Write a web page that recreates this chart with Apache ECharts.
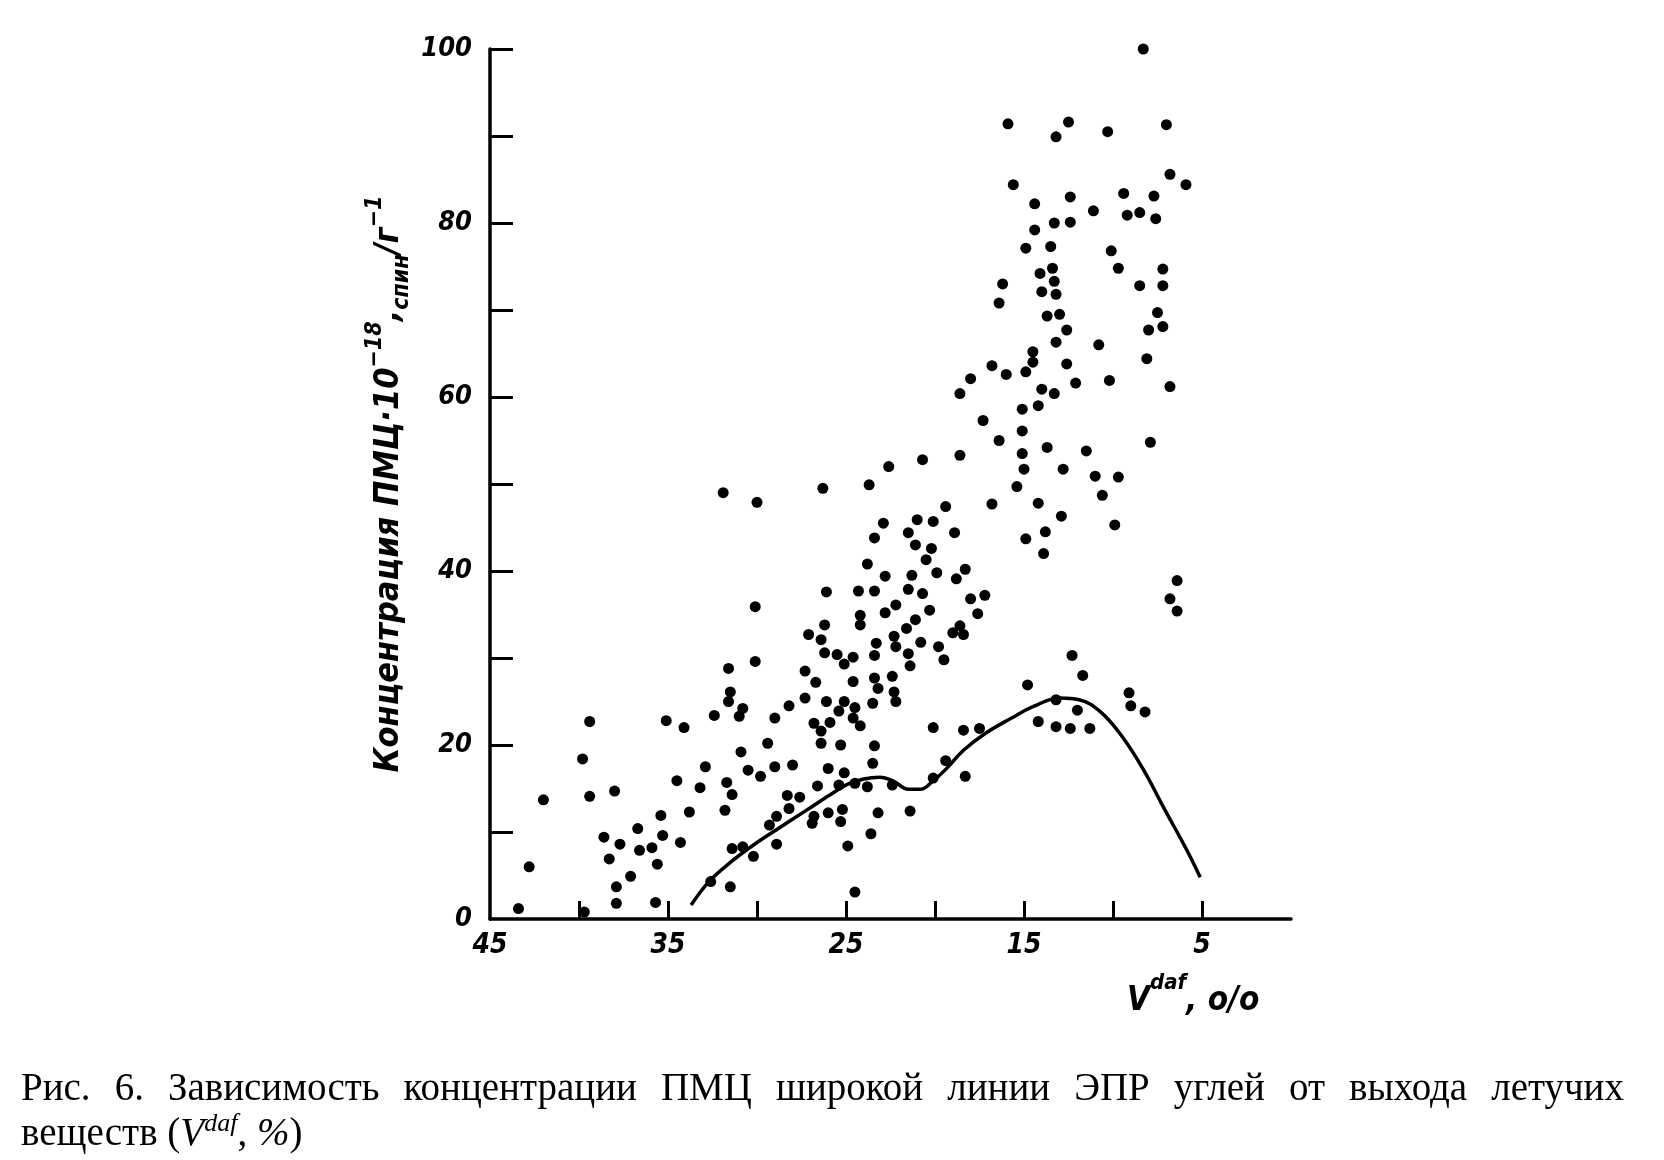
<!DOCTYPE html>
<html><head><meta charset="utf-8">
<script src="https://cdn.jsdelivr.net/npm/echarts@6/dist/echarts.min.js"></script>
<style>
html,body{margin:0;padding:0;background:#fff;}
#c{position:absolute;left:0;top:0;width:1664px;height:1160px;}
#cap{position:absolute;left:21px;top:1064px;width:1603px;font-family:'Liberation Serif','DejaVu Serif',serif;font-size:39px;line-height:45px;color:#000;}
#cap .l1{text-align:justify;text-align-last:justify;}
</style></head><body>
<div id="c"></div>
<div id="cap"><div class="l1">Рис. 6. Зависимость концентрации ПМЦ широкой линии ЭПР углей от выхода летучих</div><div>веществ (<i>V</i><sup style="font-size:26px;font-style:italic;line-height:0">daf</sup>, <i>%</i>)</div></div>
<script>
// V^daf, % (x)  and  spin concentration *10^-18 (y)
const scatterPoints = [
[31.9,49.0],[30.0,47.9],[30.1,35.9],[30.1,29.6],[31.6,28.8],[31.5,26.1],[31.6,25.0],[30.8,24.2],[31.0,23.3],[32.4,23.4],
[39.4,22.7],[35.1,22.8],[34.1,22.0],[30.9,19.2],[39.8,18.4],[32.9,17.5],[30.5,17.1],[29.8,16.4],[34.5,15.9],[33.2,15.1],
[31.7,15.7],[31.4,14.3],[42.0,13.7],[39.4,14.1],[38.0,14.7],[35.4,11.9],[33.8,12.3],[31.8,12.5],[36.7,10.4],[38.6,9.4],
[35.3,9.6],[34.3,8.8],[37.7,8.6],[36.6,7.9],[35.9,8.2],[38.3,6.9],[35.6,6.3],[31.4,8.1],[30.2,7.2],[30.8,8.3],
[42.8,6.0],[37.1,4.9],[37.9,3.7],[31.5,3.7],[43.4,1.2],[39.7,0.8],[37.9,1.8],[35.7,1.9],[32.6,4.3]
];
const scatterPoints2 = [
[16.8,63.6],[16.0,62.6],[18.0,62.1],[18.6,60.4],[17.3,57.3],[16.4,55.0],[18.6,53.3],[20.7,52.8],[22.6,52.0],[23.7,49.9],
[26.3,49.5],[16.8,47.7],[19.4,47.4],[22.9,45.5],[21.0,45.9],[20.1,45.7],[21.5,44.4],[18.9,44.4],[23.4,43.8],[21.1,43.0],
[20.2,42.6],[20.5,41.3],[23.8,40.8],[22.8,39.4],[21.3,39.5],[19.9,39.8],[18.3,40.2],[18.8,39.1],[26.1,37.6],[24.3,37.7],
[23.4,37.7],[21.5,37.9],[20.7,37.4],[18.0,36.8],[17.2,37.2],[22.2,36.1],[22.8,35.2],[20.3,35.5],[17.6,35.1],[24.2,34.9],
[24.2,33.8],[21.1,34.4],[26.2,33.8],[21.6,33.4],[19.0,32.9],[18.6,33.7],[18.4,32.7],[27.1,32.7],[26.4,32.1],[22.3,32.5],
[23.3,31.7],[20.8,31.8],[22.2,31.3],[19.8,31.3],[26.2,30.6],[25.5,30.4],[24.6,30.1],[23.4,30.3],[21.5,30.5],[19.5,29.8]
];
const scatterPoints3 = [
[21.4,29.1],[27.3,28.5],[26.7,27.2],[25.1,29.3],[24.6,27.3],[23.4,27.7],[23.2,26.5],[22.4,27.9],[22.3,26.1],[22.2,25.0],
[27.3,25.4],[28.2,24.5],[26.1,25.0],[25.1,25.0],[24.5,24.3],[23.5,24.8],[25.4,23.9],[29.0,23.1],[26.8,22.5],[26.4,21.6],
[25.9,22.6],[24.6,23.1],[24.2,22.2],[29.4,20.2],[26.4,20.2],[25.3,20.0],[23.4,19.9],[23.5,17.9],[20.1,22.0],[18.4,21.7],
[17.5,21.9],[19.4,18.2],[18.3,16.4],[20.1,16.2],[29.0,17.5],[28.0,17.7],[26.0,17.3],[25.1,16.8],[26.6,15.3],[25.4,15.4],
[24.5,15.6],[23.8,15.2],[22.4,15.4],[28.3,14.2],[27.6,14.0],[28.2,12.7],[28.9,11.8],[29.3,10.8],[26.8,11.8],[26.9,11.0],
[26.0,12.2],[25.2,12.6],[25.3,11.2],[23.2,12.2],[21.4,12.4],[28.9,8.6],[23.6,9.8],[24.9,8.4],[24.5,3.1]
];
const scatterPoints4 = [
[8.3,100],[15.9,91.4],[12.5,91.6],[13.2,89.9],[10.3,90.5],[7.0,91.3],[6.8,85.6],[5.9,84.4],[15.6,84.4],[12.4,83.0],
[9.4,83.4],[7.7,83.1],[14.4,82.2],[11.1,81.4],[9.2,80.9],[8.5,81.2],[7.6,80.5],[13.3,80.0],[12.4,80.1],[14.4,79.2],
[14.9,77.1],[13.5,77.3],[10.1,76.8],[13.4,74.8],[14.1,74.2],[13.3,73.3],[9.7,74.8],[7.2,74.7],[16.2,73.0],[14.0,72.1],
[13.2,71.8],[8.5,72.8],[7.2,72.8],[16.4,70.8],[13.7,69.3],[13.0,69.5],[12.6,67.7],[7.5,69.7],[8.0,67.7],[7.2,68.1],
[13.2,66.3],[10.8,66.0],[14.5,65.2],[14.5,64.0],[12.6,63.8],[8.1,64.4],[14.9,62.9]
];
const scatterPoints5 = [
[12.1,61.6],[10.2,61.9],[6.8,61.2],[14.0,60.9],[13.3,60.4],[14.2,59.0],[15.1,58.6],[15.1,56.1],[13.7,54.2],[11.5,53.8],
[7.9,54.8],[15.1,53.5],[15.0,51.7],[12.8,51.7],[11.0,50.9],[9.7,50.8],[15.4,49.7],[10.6,48.7],[14.2,47.8],[12.9,46.3],
[9.9,45.3],[13.8,44.5],[14.9,43.7],[13.9,42.0],[6.4,38.9],[6.8,36.8],[6.4,35.4],[12.3,30.3],
[11.7,28.0],[14.8,26.9],[9.1,26.0],[9.0,24.5],[8.2,23.8],[13.2,25.2],[12.0,24.0],[14.2,22.7],[13.2,22.1],[12.4,21.9],[11.3,21.9]
];
const curvePoints = [
[33.7,1.6],[32.7,4.3],[31.5,6.5],[30.2,8.5],[28.8,10.4],[27.3,12.4],[25.8,14.4],[24.9,15.5],[24.0,16.1],[23.1,16.3],
[22.3,15.8],[21.5,14.9],[20.8,14.9],[20.2,15.7],[19.3,17.4],[18.4,19.4],[17.2,21.3],[15.7,23.1],[14.5,24.4],[13.0,25.4],
[11.9,25.2],[10.7,23.8],[9.5,21.0],[8.3,17.2],[7.1,12.6],[5.9,8.1],[5.1,4.8]
];
const xTickValues = [5,10,15,20,25,30,35,40];
const xLabelValues = [5,15,25,35,45];
const yTickValues = [10,20,30,40,50,60,70,80,90,100];
const yLabelValues = [0,20,40,60,80,100];

const allPoints = scatterPoints.concat(scatterPoints2, scatterPoints3, scatterPoints4, scatterPoints5);
const numFont = "'DejaVu Sans Condensed','Liberation Sans Narrow','DejaVu Sans',sans-serif";

const chart = echarts.init(document.getElementById('c'), null, {renderer:'canvas'});
chart.setOption({
  backgroundColor:'#fff',
  animation:false,
  grid:{left:490, right:373, top:49, bottom:241, containLabel:false},
  xAxis:{
    type:'value', min:0, max:45, inverse:true, interval:5,
    splitLine:{show:false},
    axisLine:{show:true, onZero:false, lineStyle:{color:'#000', width:3.5}},
    axisTick:{show:true, inside:true, length:18, lineStyle:{color:'#000', width:3}, customValues:xTickValues},
    axisLabel:{show:true, color:'#000', fontSize:28, fontWeight:'bold', fontStyle:'italic', fontFamily:numFont, margin:13, customValues:xLabelValues}
  },
  yAxis:{
    type:'value', min:0, max:100, interval:10,
    splitLine:{show:false},
    axisLine:{show:true, onZero:false, lineStyle:{color:'#000', width:3.5}},
    axisTick:{show:true, inside:true, length:23, lineStyle:{color:'#000', width:3}, customValues:yTickValues},
    axisLabel:{show:true, color:'#000', fontSize:27, fontWeight:'bold', fontStyle:'italic', fontFamily:numFont, margin:18, customValues:yLabelValues},
    name:'{a|Концентрация ПМЦ·10}{sup|−18}{a|,}{sub|спин}{a|/г}{sup|−1}',
    nameLocation:'middle', nameRotate:90, nameGap:76,
    nameTextStyle:{
      rich:{
        a:{fontSize:34, fontWeight:'bold', fontStyle:'italic', fontFamily:numFont, color:'#000', lineHeight:50, verticalAlign:'middle'},
        sup:{fontSize:23, fontWeight:'bold', fontStyle:'italic', fontFamily:numFont, color:'#000', lineHeight:50, verticalAlign:'top'},
        sub:{fontSize:23, fontWeight:'bold', fontStyle:'italic', fontFamily:numFont, color:'#000', lineHeight:50, verticalAlign:'bottom'}
      }
    }
  },
  graphic:[{
    type:'text', left:1127, top:972,
    style:{
      text:'{v|V}{sup|daf}{v|, o/o}',
      rich:{
        v:{fontSize:33, fontWeight:'bold', fontStyle:'italic', fontFamily:numFont, fill:'#000', lineHeight:46, verticalAlign:'bottom'},
        sup:{fontSize:22, fontWeight:'bold', fontStyle:'italic', fontFamily:numFont, fill:'#000', lineHeight:46, verticalAlign:'top'}
      }
    }
  }],
  series:[
    {type:'scatter', data:allPoints, symbol:'circle', symbolSize:11, itemStyle:{color:'#000', opacity:1}, silent:true},
    {type:'line', data:curvePoints, smooth:0.4, showSymbol:false, symbol:'none', lineStyle:{color:'#000', width:3.5}, silent:true}
  ]
});
</script>
</body></html>
